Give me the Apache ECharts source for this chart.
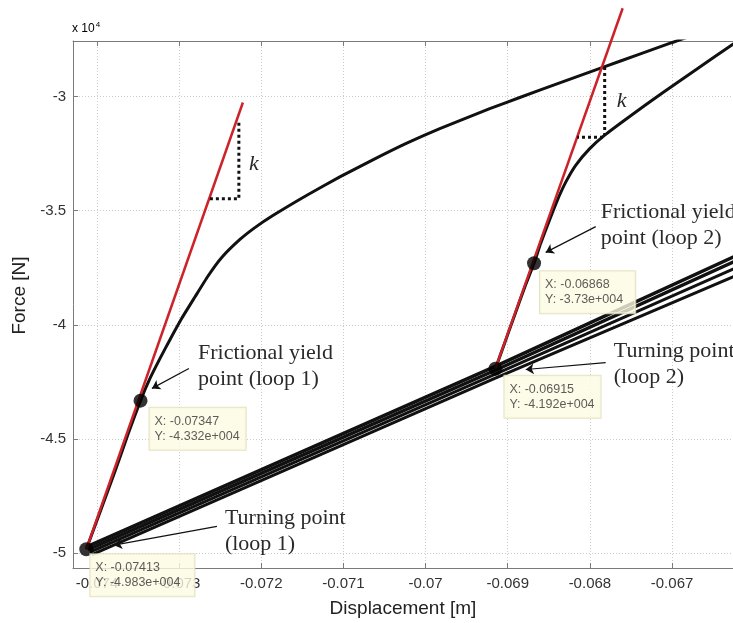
<!DOCTYPE html>
<html><head><meta charset="utf-8">
<script src="https://cdn.jsdelivr.net/npm/echarts@6/dist/echarts.min.js"></script>
<style>html,body{margin:0;padding:0;background:#fff}#c{width:733px;height:623px}</style>
</head><body><div id="c"></div>
<script>
// ---- axis ticks / ranges ----
const xTicks = [-0.074, -0.073, -0.072, -0.071, -0.070, -0.069, -0.068, -0.067];
const yTicks = [-50000, -45000, -40000, -35000, -30000];
const xRange = [-0.074292, -0.066258];
const yRange = [-50652, -27565];

// ---- loading branches (black curves) ----
const loop1Loading = [
  [-0.07413, -49830], [-0.073787, -46480], [-0.073617, -44740], [-0.07347, -43320],
  [-0.073355, -42350], [-0.073234, -41480], [-0.073112, -40650], [-0.072966, -39700],
  [-0.072808, -38780], [-0.072650, -37870], [-0.072479, -37040], [-0.072260, -36260],
  [-0.072078, -35740], [-0.071859, -35210], [-0.071445, -34320], [-0.071044, -33520],
  [-0.070642, -32770], [-0.070229, -32040], [-0.069827, -31400], [-0.069219, -30530],
  [-0.068854, -30040], [-0.068367, -29400], [-0.067844, -28720], [-0.067394, -28140],
  [-0.067005, -27640], [-0.066786, -27370]
];
const loop2Loading = [
  [-0.06915, -41920], [-0.069036, -40780], [-0.068915, -39570], [-0.068793, -38350],
  [-0.06868, -37300], [-0.068599, -36430], [-0.068513, -35610], [-0.068404, -34610],
  [-0.068294, -33750], [-0.068173, -33010], [-0.068002, -32280], [-0.067820, -31690],
  [-0.067516, -30870], [-0.067114, -29830], [-0.066701, -28800], [-0.066263, -27720],
  [-0.066117, -27360]
];
// ---- straight branches (several cycles) ----
const branch1 = [[-0.074134, -49740], [-0.069158, -41830], [-0.066200, -36940]];
const branch2 = [[-0.074109, -49850], [-0.069158, -42000], [-0.066200, -37160]];
const branch3 = [[-0.074085, -49960], [-0.069158, -42170], [-0.066200, -37470]];
const branch4 = [[-0.074061, -50070], [-0.069158, -42350], [-0.066200, -37810]];
// ---- stiffness lines (red) ----
const stiffness1 = [[-0.07413, -49830], [-0.072224, -30260]];
const stiffness2 = [[-0.06915, -41920], [-0.067601, -26130]];
// ---- k triangles ----
const kTriangle1 = [[-0.072273, -31150], [-0.072273, -34480], [-0.072635, -34480]];
const kTriangle2 = [[-0.067820, -28700], [-0.067820, -31780], [-0.068155, -31780]];
// ---- marked points / data tips ----
const keyX = [-0.07413, -0.07347, -0.06868, -0.06915];
const keyY = [-49830, -43320, -37300, -41920];
const tipX = ['X: -0.07413', 'X: -0.07347', 'X: -0.06868', 'X: -0.06915'];
const tipY = ['Y: -4.983e+004', 'Y: -4.332e+004', 'Y: -3.73e+004', 'Y: -4.192e+004'];
const tipOffset = [[11, 12], [16, 14], [13, 15], [16, 14]];
const tipPadRight = [14, 6, 12, 6];
// ---- annotations ----
const noteText = ['Frictional yield\npoint (loop 1)', 'Frictional yield\npoint (loop 2)', 'Turning point\n(loop 2)', 'Turning point\n(loop 1)'];
const noteAt = [[-0.072771, -40652], [-0.067869, -34478], [-0.067710, -40565], [-0.072443, -47913]];
const arrowFrom = [[-0.072881, -41913], [-0.067929, -35696], [-0.067808, -41652], [-0.072540, -48826]];
const arrowTo = [[-0.073331, -42783], [-0.068538, -36826], [-0.068781, -41957], [-0.073793, -49652]];
const kAt = [[-0.072090, -32957], [-0.067613, -30217]];

const chart = echarts.init(document.getElementById('c'));
const axisCol = '#7a7a7a';
const blackLine = (data, w, smooth) => ({type: 'line', data, showSymbol: false, symbol: 'none', smooth: smooth || false,
  lineStyle: {color: '#111', width: w}, z: 3, clip: true, silent: true});

const option = {
  animation: false,
  backgroundColor: '#fff',
  grid: {left: 73, top: 41, right: 0, bottom: 53, containLabel: false},
  xAxis: [{
    type: 'value', position: 'bottom', min: xRange[0], max: xRange[1],
    axisLine: {show: true, onZero: false, lineStyle: {color: axisCol, width: 1}},
    axisTick: {show: true, inside: true, length: 5, customValues: xTicks, lineStyle: {color: axisCol}},
    axisLabel: {customValues: xTicks, color: '#333', fontSize: 15, margin: 8, fontFamily: 'Liberation Sans',
      formatter: v => String(+(+v).toFixed(3))},
    splitLine: {show: true, lineStyle: {color: '#cccccc', type: [1, 2], width: 1}},
    name: 'Displacement [m]', nameLocation: 'middle', nameGap: 31,
    nameTextStyle: {fontSize: 19, color: '#222', fontFamily: 'Liberation Sans'}
  }, {
    type: 'value', position: 'top', min: xRange[0], max: xRange[1],
    axisLine: {show: true, onZero: false, lineStyle: {color: axisCol, width: 1}},
    axisTick: {show: true, inside: true, length: 5, customValues: xTicks, lineStyle: {color: axisCol}},
    axisLabel: {show: false}, splitLine: {show: false}
  }],
  yAxis: [{
    type: 'value', position: 'left', min: yRange[0], max: yRange[1],
    axisLine: {show: true, onZero: false, lineStyle: {color: axisCol, width: 1}},
    axisTick: {show: true, inside: true, length: 5, customValues: yTicks, lineStyle: {color: axisCol}},
    axisLabel: {customValues: yTicks, color: '#333', fontSize: 15, margin: 7, fontFamily: 'Liberation Sans',
      formatter: v => String(+(v / 10000).toFixed(2))},
    splitLine: {show: true, lineStyle: {color: '#cccccc', type: [1, 2], width: 1}},
    name: 'Force [N]', nameLocation: 'middle', nameGap: 40, nameRotate: 90,
    nameTextStyle: {fontSize: 19, color: '#222', fontFamily: 'Liberation Sans', padding: [0, 0, 0, 18]}
  }],
  series: [
    blackLine(branch1, 3.5), blackLine(branch2, 3.5), blackLine(branch3, 3), blackLine(branch4, 3),
    blackLine(loop1Loading, 3, 0.15), blackLine(loop2Loading, 3, 0.15),
    {type: 'line', data: stiffness1, symbol: 'none', lineStyle: {color: '#cc2229', width: 2.5}, z: 4, clip: true},
    {type: 'line', data: stiffness2, symbol: 'none', lineStyle: {color: '#cc2229', width: 2.5}, z: 4, clip: false},
    {type: 'line', data: kTriangle1, symbol: 'none', lineStyle: {color: '#111', width: 3, type: [3, 3]}, z: 4},
    {type: 'line', data: kTriangle2, symbol: 'none', lineStyle: {color: '#111', width: 3, type: [3, 3]}, z: 4},
    {type: 'lines', coordinateSystem: 'cartesian2d', z: 6, symbol: ['none', 'arrow'], symbolSize: 8,
      lineStyle: {color: '#111', width: 1.2, opacity: 1},
      data: arrowFrom.map((f, i) => ({coords: [f, arrowTo[i]]}))},
    {type: 'scatter', z: 8, symbol: 'circle', symbolSize: 14, itemStyle: {color: '#000'},
      data: keyX.map((x, i) => ({
        value: [x, keyY[i]],
        label: {show: true, position: tipOffset[i], formatter: tipX[i] + '\n' + tipY[i],
          backgroundColor: '#fcfbe2', borderColor: '#dedcb8', borderWidth: 1,
          padding: [6, tipPadRight[i], 6, 5], fontSize: 12.5, lineHeight: 15, color: '#333', fontFamily: 'Liberation Sans'}
      }))}
  ]
};
chart.setOption(option);

const g = [];
noteText.forEach((t, i) => {
  const p = chart.convertToPixel({gridIndex: 0}, noteAt[i]);
  g.push({type: 'text', x: p[0], y: p[1], z: 20,
    style: {text: t, font: '22px "Liberation Serif"', lineHeight: 26, fill: '#2a2a2a', textAlign: 'left', textVerticalAlign: 'top'}});
});
kAt.forEach(k => {
  const p = chart.convertToPixel({gridIndex: 0}, k);
  g.push({type: 'text', x: p[0], y: p[1], z: 20,
    style: {text: 'k', font: 'italic 22px "Liberation Serif"', fill: '#2a2a2a', textAlign: 'center', textVerticalAlign: 'middle'}});
});
g.push({type: 'text', x: 72, y: 29, z: 20,
  style: {text: '{a|x 10}{b|4}', textVerticalAlign: 'middle',
    rich: {a: {fontSize: 12, fontFamily: 'Liberation Sans', color: '#444'},
           b: {fontSize: 8, fontFamily: 'Liberation Sans', color: '#444', padding: [0, 0, 9, 1]}}}});
chart.setOption({graphic: g});
</script></body></html>
